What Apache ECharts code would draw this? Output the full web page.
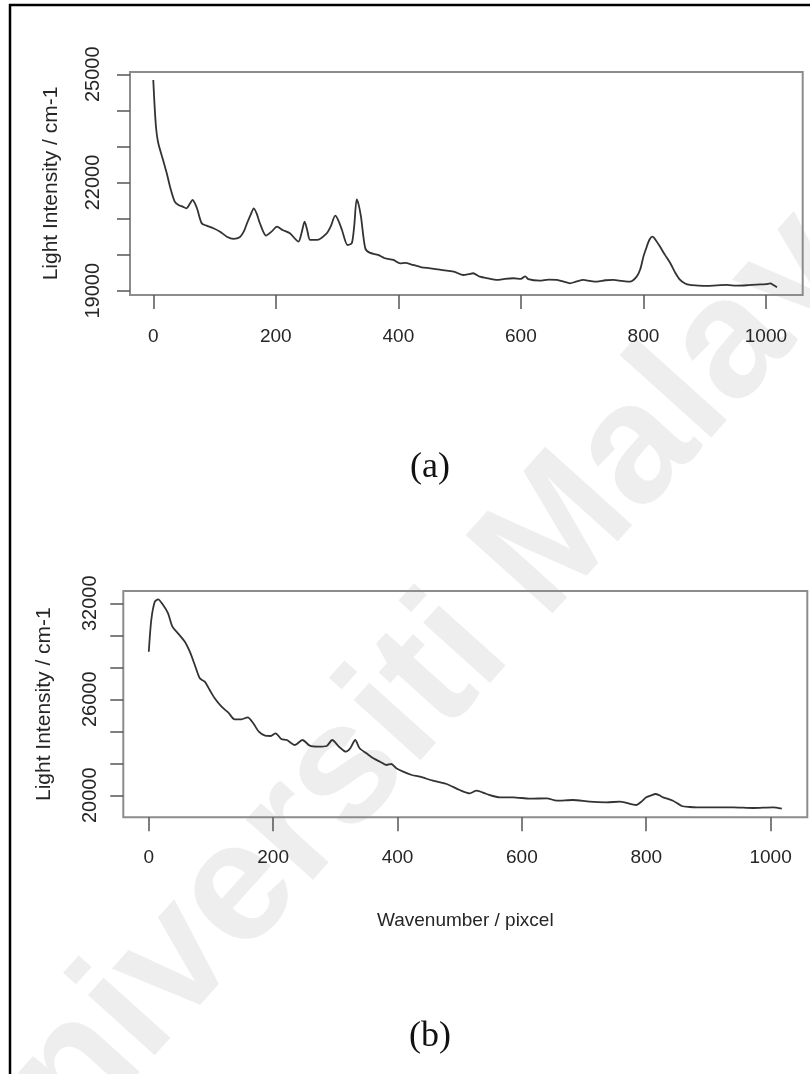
<!DOCTYPE html>
<html>
<head>
<meta charset="utf-8">
<script src="https://cdn.jsdelivr.net/npm/echarts@6/dist/echarts.min.js"></script>
<style>
html,body{margin:0;padding:0;background:#fff;}
#c{width:810px;height:1074px;}
</style>
</head>
<body>
<div id="c"></div>
<script>
// ---- Panel (a) spectrum ----
const xA = [0,1.6,4.4,8.2,16,22,28,35,41,48,54,60,64,68,72,79,87,98,109,120,131,141,148,153,159,164,169,174,184,193,202,211,223,237,242,247,251,256,267,283,290,297,302,308,317,324,328,332,335,339,346,353,367,378,392,403,411,424,438,452,465,479,492,506,515,522,533,547,561,574,588,600,607,612,631,645,659,670,680,690,702,713,724,738,751,765,778,789,795,800,805,810,815,821,827,835,844,852,860,868,876,890,904,920,936,952,969,985,1000,1007,1012,1018];
const yA = [24842,24288,23547,23087,22624,22256,21840,21469,21377,21330,21285,21420,21516,21420,21250,20870,20803,20731,20637,20498,20435,20480,20650,20870,21110,21285,21130,20870,20526,20637,20776,20684,20592,20360,20600,20914,20700,20407,20407,20592,20800,21080,20950,20684,20268,20315,20800,21535,21400,21053,20177,20055,19991,19900,19852,19760,19770,19714,19650,19622,19590,19556,19520,19436,19460,19484,19390,19340,19298,19330,19345,19330,19400,19320,19279,19310,19298,19250,19206,19250,19298,19270,19251,19290,19298,19270,19251,19390,19600,19945,20200,20420,20498,20380,20223,20000,19761,19500,19298,19200,19160,19140,19132,19150,19160,19140,19151,19170,19180,19206,19160,19096];
// ---- Panel (b) spectrum ----
const xB = [0,4,9.6,15,23,31,38,47,58,66,74,82,90,98,106,117,128,138,149,159,168,177,187,196,204,213,222,235,247,259,272,286,295,306,317,324,332,339,350,361,372,382,390,398,409,423,436,457,479,500,516,527,543,565,586,613,640,656,682,709,736,758,784,792,800,808,815,821,827,843,857,870,881,908,940,972,1004,1018];
const yB = [28975,30956,32100,32250,31894,31375,30538,30125,29600,28975,28144,27313,27100,26581,26063,25538,25163,24750,24750,24875,24500,23975,23725,23706,23875,23519,23456,23144,23456,23100,23038,23081,23456,23038,22725,22938,23456,22938,22625,22313,22100,21894,21956,21688,21475,21269,21163,20913,20706,20331,20125,20288,20081,19875,19875,19788,19813,19663,19706,19600,19563,19600,19394,19600,19875,20000,20081,20000,19875,19663,19331,19270,19250,19250,19250,19206,19250,19163];

// ---- Tick values ----
const xTicks = [0,200,400,600,800,1000];
const yTicksA = [19000,20000,21000,22000,23000,24000,25000];
const yLabelsA = [19000,22000,25000];
const yTicksB = [20000,22000,24000,26000,28000,30000,32000];
const yLabelsB = [20000,26000,32000];

const yTitle = 'Light Intensity / cm-1';
const xTitle = 'Wavenumber / pixcel';

const dataA = xA.map((x,i)=>[x,yA[i]]);
const dataB = xB.map((x,i)=>[x,yB[i]]);

const FONT = 'Liberation Sans, Arial, sans-serif';
const txt = '#262626';
const plain = v => String(v);

function xAxisCfg(idx, min, max, margin, name){
  return {
    type:'value', gridIndex:idx, min:min, max:max,
    axisLine:{show:false, onZero:false}, splitLine:{show:false},
    axisTick:{show:true, customValues:xTicks, length:14, lineStyle:{color:'#555', width:1.5}},
    axisLabel:{customValues:xTicks, formatter:plain, margin:margin, fontSize:19, fontFamily:FONT, color:txt},
    name:name||'', nameLocation:'middle', nameGap:94,
    nameTextStyle:{fontSize:19, fontFamily:FONT, color:txt}
  };
}
function yAxisCfg(idx, min, max, ticks, labels, margin, gap){
  return {
    type:'value', gridIndex:idx, min:min, max:max,
    axisLine:{show:false, onZero:false}, splitLine:{show:false},
    axisTick:{show:true, customValues:ticks, length:13, lineStyle:{color:'#555', width:1.5}},
    axisLabel:{customValues:labels, formatter:plain, rotate:90, margin:margin, fontSize:20, fontFamily:FONT, color:txt},
    name:yTitle, nameLocation:'middle', nameGap:gap, nameRotate:90,
    nameTextStyle:{fontSize:21, fontFamily:FONT, color:txt}
  };
}

const chart = echarts.init(document.getElementById('c'), null, {renderer:'canvas'});
chart.setOption({
  animation:false,
  backgroundColor:'#fff',
  grid:[
    {left:130, top:72, width:672.7, height:223, show:true, borderColor:'#8c8c8c', borderWidth:2, backgroundColor:'transparent'},
    {left:123.3, top:591, width:684, height:226.3, show:true, borderColor:'#8c8c8c', borderWidth:2, backgroundColor:'transparent'}
  ],
  xAxis:[
    xAxisCfg(0, -38, 1060, 32),
    xAxisCfg(1, -41, 1059, 31, xTitle)
  ],
  yAxis:[
    yAxisCfg(0, 18881, 25064, yTicksA, yLabelsA, 27, 68),
    yAxisCfg(1, 18625, 32769, yTicksB, yLabelsB, 23, 69)
  ],
  series:[
    {type:'line', xAxisIndex:0, yAxisIndex:0, data:dataA, showSymbol:false, smooth:0.25,
     lineStyle:{color:'#333', width:1.8}, z:3},
    {type:'line', xAxisIndex:1, yAxisIndex:1, data:dataB, showSymbol:false, smooth:0.25,
     lineStyle:{color:'#333', width:1.8}, z:3}
  ],
  graphic:[
    {type:'text', z:-10, silent:true, x:425, y:685, rotation:48*Math.PI/180,
     style:{text:'Universiti Malaya', fill:'#eeeeee', font:'bold 170px Liberation Sans, Arial, sans-serif', textAlign:'center', textVerticalAlign:'middle'}},
    {type:'line', z:10, shape:{x1:9, y1:5, x2:810, y2:5}, style:{stroke:'#000', lineWidth:2.5}},
    {type:'line', z:10, shape:{x1:10, y1:4, x2:10, y2:1074}, style:{stroke:'#000', lineWidth:2.5}},
    {type:'text', x:430, y:468, style:{text:'(a)', font:'36px Liberation Serif, Times New Roman, serif', fill:'#111', textAlign:'center', textVerticalAlign:'middle'}},
    {type:'text', x:430, y:1037, style:{text:'(b)', font:'36px Liberation Serif, Times New Roman, serif', fill:'#111', textAlign:'center', textVerticalAlign:'middle'}}
  ]
});
</script>
</body>
</html>
